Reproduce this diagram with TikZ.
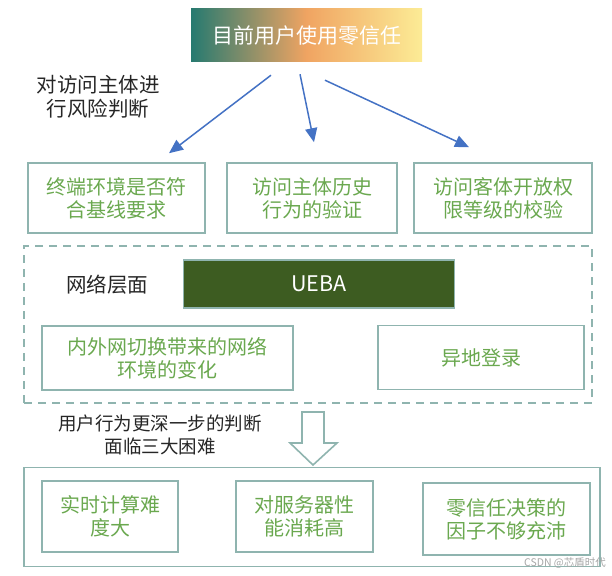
\documentclass[tikz,border=0pt]{standalone}
\usepackage{fontspec}
\setmainfont{Noto Sans CJK SC}
\usepackage{tikz}
\usetikzlibrary{positioning,arrows.meta,calc}
\definecolor{boxline}{RGB}{143,180,175}
\definecolor{txtgreen}{RGB}{106,168,79}
\definecolor{uebagreen}{RGB}{61,92,33}
\definecolor{arrblue}{RGB}{68,114,196}
\definecolor{gradteal}{RGB}{38,122,112}
\definecolor{gradorange}{RGB}{240,164,98}
\definecolor{gradyellow}{RGB}{252,236,150}

\begin{document}
\begin{tikzpicture}[x=1pt,y=-1pt,
  every node/.style={font=\fontsize{20}{23}\selectfont,inner sep=0pt},
  block/.style={draw=boxline,line width=1.6pt,align=center,text=txtgreen},
  frame/.style={draw=boxline,line width=1.6pt},
  lbl/.style={align=center,text=black!85,font=\fontsize{20.5}{24}\selectfont},
  arrow/.style={-{Triangle[length=14pt,width=12pt]},draw=arrblue,line width=1.5pt}
]
  \useasboundingbox (0,0) rectangle (612,575);
  % top
  \node[left color=gradteal,right color=gradyellow,middle color=gradorange,
        minimum width=231,minimum height=53,text=white,
        font=\fontsize{21}{24}\selectfont] (top) at (306.5,35.5)
    {目前用户使用零信任};
  \node[lbl] (lblrisk) at (98,97) {对访问主体进\\行风险判断};
  % first row
  \node[block,minimum width=177,minimum height=70] (term) at (116.5,198)
    {终端环境是否符\\合基线要求};
  \node[block,minimum width=170,minimum height=70] (hist) at (312,198)
    {访问主体历史\\行为的验证};
  \node[block,minimum width=178,minimum height=70] (perm) at (503,198)
    {访问客体开放权\\限等级的校验};
  \draw[arrow] ($(top.south)+(-35.5,13)$) -- ($(term.north)+(52.5,-9)$);
  \draw[arrow] ($(top.south)+(-6.5,12)$) -- ($(hist.north)+(2,-20)$);
  \draw[arrow] ($(top.south)+(18.5,18)$) -- ($(perm.north)+(-34,-15)$);
  % network layer
  \node[draw=boxline,line width=1.6pt,dash pattern=on 8pt off 6pt,
        minimum width=568,minimum height=157] (net) at (308,324.5) {};
  \node[lbl] (lblnet) at (107,285) {网络层面};
  \node[frame,fill=uebagreen,text=white,minimum width=271,minimum height=48,
        font=\fontsize{21.5}{24}\selectfont] (ueba) at (319,284) {UEBA};
  \node[block,minimum width=251,minimum height=64] (inout) at (167.5,358)
    {内外网切换带来的网络\\环境的变化};
  \node[block,minimum width=206,minimum height=64] (remote) at (481,357.5)
    {异地登录};
  % difficulties
  \node[lbl,font=\fontsize{18.5}{23}\selectfont] (lbldeep) at (160,435)
    {用户行为更深一步的判断\\面临三大困难};
  \draw[frame,fill=white,line join=miter] (302,412) -- (324,412) -- (324,443)
    -- (337,443) -- (313,465) -- (290,443) -- (302,443) -- cycle;
  \node[frame,minimum width=576,minimum height=99] (bottom) at (312,517) {};
  \node[block,minimum width=136,minimum height=71] (calc) at (110,516.5)
    {实时计算难\\度大};
  \node[block,minimum width=137,minimum height=71] (load) at (304.5,516.5)
    {对服务器性\\能消耗高};
  \node[block,minimum width=167,minimum height=72] (factor) at (506.5,519)
    {零信任决策的\\因子不够充沛};
  \node[text=black!35,font=\fontsize{10.5}{12}\selectfont] (mark) at (565,563)
    {CSDN @芯盾时代};
\end{tikzpicture}
\end{document}
